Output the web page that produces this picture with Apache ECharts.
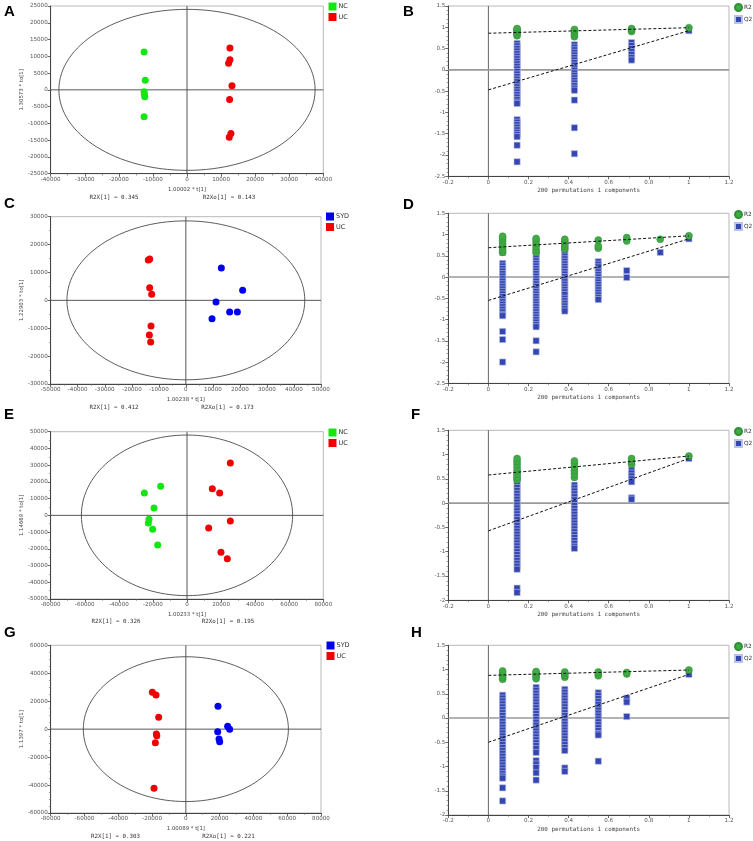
<!DOCTYPE html>
<html><head><meta charset="utf-8">
<script src="https://cdn.jsdelivr.net/npm/echarts@6/dist/echarts.min.js"></script>
<style>html,body{margin:0;padding:0;background:#fff}#c{width:753px;height:841px}</style>
</head><body><div id="c"></div>
<script>
// ---------- Score plot data (OPLS-DA) ----------
const A_NC = [[-12600,11290],[-12250,2850],[-12600,-550],[-12500,-1330],[-12400,-2040],[-12600,-8000]];
const A_UC = [[12600,12500],[12600,8950],[12200,7900],[13200,1200],[12500,-2900],[12900,-13000],[12400,-14100]];
const C_SYD = [[13130,11590],[21020,3590],[11160,-600],[16210,-4180],[19050,-4180],[9680,-6570]];
const C_UC = [[-13870,14460],[-13380,14820],[-13380,4540],[-12640,2150],[-12890,-9200],[-13500,-12430],[-13010,-14940]];
const E_NC = [[-15450,17330],[-25040,13350],[-19360,4380],[-22300,-2390],[-22690,-4580],[-20150,-8370],[-17210,-17730]];
const E_UC = [[25430,31270],[14870,15940],[19170,13350],[25430,-3390],[12710,-7570],[19950,-22110],[23670,-25900]];
const G_SYD = [[19030,16340],[24750,2030],[25940,-120],[18840,-1790],[19630,-7040],[20020,-8950]];
const G_UC = [[-19820,26360],[-17650,24450],[-16080,8470],[-17460,-3460],[-17200,-4650],[-18050,-9660],[-18840,-42350]];
// Hotelling ellipse semi-axes [x, y]
const ELLIPSES = [[37600,24000],[44000,28500],[62000,48000],[60700,51800]];
const SCORE_XNAMES = ['1.00002 * t[1]','1.00238 * t[1]','1.00233 * t[1]','1.00089 * t[1]'];
const SCORE_YNAMES = ['1.30573 * to[1]','1.22903 * to[1]','1.14669 * to[1]','1.1397 * to[1]'];
const R2X = ['0.345','0.412','0.326','0.303'];
const R2XO = ['0.143','0.173','0.195','0.221'];
const SCORE_X = [[-40000,40000,10000],[-50000,50000,10000],[-80000,80000,20000],[-80000,80000,20000]];
const SCORE_Y = [[-25000,25000,5000],[-30000,30000,10000],[-50000,50000,10000],[-60000,60000,20000]];

// ---------- Permutation test data ----------
const B_POS = [0.143,0.429,0.714,1];
const B_R2 = [[0.80,0.84,0.88,0.92,0.95,0.97],[0.78,0.83,0.88,0.92,0.95],[0.90,0.94,0.97],[0.99]];
const B_Q2 = [
 [0.62,0.56,0.50,0.44,0.38,0.32,0.26,0.20,0.14,0.08,0.02,-0.04,-0.10,-0.16,-0.22,-0.28,-0.34,-0.40,-0.46,-0.52,-0.58,-0.64,-0.70,-0.76,-0.79,-1.17,-1.23,-1.29,-1.35,-1.41,-1.47,-1.52,-1.57,-1.77,-2.16],
 [0.59,0.53,0.47,0.41,0.35,0.29,0.23,0.17,0.11,0.05,-0.01,-0.07,-0.13,-0.19,-0.25,-0.31,-0.37,-0.43,-0.48,-0.71,-1.36,-1.97],
 [0.64,0.57,0.50,0.43,0.36,0.29,0.23],
 [0.92]];
const B_LINES = {r2:[0.86,0.99], q2:[-0.47,0.92]};

const D_POS = [0.071,0.238,0.381,0.548,0.69,0.857,1];
const D_R2 = [[0.58,0.64,0.71,0.78,0.85,0.91,0.96],[0.58,0.65,0.72,0.79,0.86,0.91],[0.66,0.72,0.78,0.84,0.89],[0.68,0.73,0.87],[0.85,0.93],[0.89],[0.97]];
const D_Q2 = [
 [0.58,0.32,0.26,0.20,0.14,0.08,0.02,-0.04,-0.10,-0.16,-0.22,-0.28,-0.34,-0.40,-0.46,-0.52,-0.58,-0.64,-0.70,-0.76,-0.82,-0.88,-0.91,-1.28,-1.47,-2.0],
 [0.56,0.50,0.44,0.38,0.32,0.26,0.20,0.14,0.08,0.02,-0.04,-0.10,-0.16,-0.22,-0.28,-0.34,-0.40,-0.46,-0.52,-0.58,-0.64,-0.70,-0.76,-0.82,-0.88,-0.94,-1.00,-1.06,-1.12,-1.17,-1.50,-1.76],
 [0.79,0.73,0.67,0.61,0.55,0.49,0.43,0.37,0.31,0.25,0.19,0.13,0.07,0.01,-0.05,-0.11,-0.17,-0.23,-0.29,-0.35,-0.41,-0.50,-0.56,-0.62,-0.68,-0.74,-0.80],
 [0.36,0.30,0.24,0.18,0.12,0.06,0.00,-0.06,-0.12,-0.18,-0.24,-0.30,-0.36,-0.42,-0.48,-0.53],
 [0.15,-0.01],[0.58],[0.90]];
const D_LINES = {r2:[0.69,0.97], q2:[-0.55,0.90]};

const F_POS = [0.143,0.429,0.714,1];
const F_R2 = [[0.48,0.53,0.59,0.66,0.73,0.80,0.86,0.92],[0.53,0.60,0.67,0.74,0.81,0.87],[0.80,0.86,0.92],[0.97]];
const F_Q2 = [
 [0.68,0.62,0.56,0.50,0.44,0.38,0.32,0.26,0.20,0.14,0.08,0.02,-0.04,-0.10,-0.16,-0.22,-0.28,-0.34,-0.40,-0.46,-0.52,-0.58,-0.64,-0.70,-0.76,-0.82,-0.88,-0.94,-1.00,-1.06,-1.12,-1.18,-1.24,-1.30,-1.36,-1.75,-1.84],
 [0.70,0.37,0.31,0.25,0.19,0.13,0.07,0.01,-0.05,-0.11,-0.17,-0.23,-0.29,-0.35,-0.41,-0.47,-0.53,-0.59,-0.65,-0.71,-0.77,-0.83,-0.89,-0.93],
 [0.68,0.62,0.56,0.50,0.44,0.11,0.08],
 [0.92]];
const F_LINES = {r2:[0.58,0.97], q2:[-0.57,0.92]};

const H_POS = [0.071,0.238,0.381,0.548,0.69,1];
const H_R2 = [[0.80,0.84,0.88,0.93,0.97],[0.81,0.85,0.89,0.93,0.96],[0.84,0.88,0.92,0.95],[0.87,0.91,0.95],[0.91,0.94],[0.99]];
const H_Q2 = [
 [0.47,0.41,0.35,0.29,0.23,0.17,0.11,0.05,-0.01,-0.07,-0.13,-0.19,-0.25,-0.31,-0.37,-0.43,-0.49,-0.55,-0.61,-0.67,-0.73,-0.79,-0.85,-0.91,-0.97,-1.03,-1.09,-1.15,-1.20,-1.24,-1.44,-1.71],
 [0.63,0.57,0.51,0.45,0.39,0.33,0.27,0.21,0.15,0.09,0.03,-0.03,-0.09,-0.15,-0.21,-0.27,-0.33,-0.39,-0.45,-0.51,-0.57,-0.63,-0.71,-0.88,-0.95,-1.02,-1.13,-1.28],
 [0.59,0.53,0.47,0.41,0.35,0.29,0.23,0.17,0.11,0.05,-0.01,-0.07,-0.13,-0.19,-0.25,-0.31,-0.37,-0.43,-0.49,-0.55,-0.61,-0.67,-1.03,-1.10],
 [0.52,0.46,0.40,0.34,0.28,0.22,0.16,0.10,0.04,-0.02,-0.08,-0.14,-0.20,-0.26,-0.32,-0.35,-0.89],
 [0.41,0.33,0.03],[0.90]];
const H_LINES = {r2:[0.88,0.99], q2:[-0.50,0.90]};
const PERM_X = [-0.2,1.2,0.2];
const PERM_Y = [[-2.5,1.5,0.5],[-2.5,1.5,0.5],[-2,1.5,0.5],[-2,1.5,0.5]];
const PERM_XNAME = '200 permutations 1 components';
const LETTERS = ['A','B','C','D','E','F','G','H'];

// ---------- layout ----------
const SCORE_GRIDS = [
  {left:50.7, top:6, width:272.6, height:167.7},
  {left:50.7, top:216.7, width:270.3, height:167.3},
  {left:50.7, top:431.7, width:272.6, height:167.3},
  {left:50.7, top:645.3, width:270.3, height:167.7}];
const PERM_GRIDS = [
  {left:448.3, top:6, width:280.7, height:170.3},
  {left:448.3, top:213.3, width:280.7, height:170},
  {left:448.3, top:430.3, width:280.7, height:170},
  {left:448.3, top:645.3, width:280.7, height:169.7}];
const SCORE_LEG = [{left:328.5,top:2.5},{left:326,top:212.5},{left:328.5,top:428.5},{left:326.5,top:641.5}];
const PERM_LEG = [{left:734,top:3},{left:734,top:210},{left:734,top:427},{left:734,top:642}];
const LETTER_POS = [[4,4],[403,4],[4,196],[403,197],[4,407],[411,407],[4,625],[411,625]];
const R2X_POS = [[114,197,229],[114,407.5,227.5],[116,621.5,228],[115.5,836,228.5]];

const GREEN='#14e614', RED='#f00000', BLUE='#0000f0';
const PG='#42aa45', PB='#3546b0';
const FONT='DejaVu Sans', MONO='DejaVu Sans Mono';
const lblFmt = v => String(Math.round(v*1000)/1000);

const grid=[], xAxis=[], yAxis=[], series=[], legend=[], graphic=[];

function axisBase(r, extra){
  return Object.assign({type:'value', min:r[0], max:r[1], interval:r[2],
    axisLine:{show:true,onZero:false,lineStyle:{color:'#444',width:1}},
    axisTick:{show:true,length:3,lineStyle:{color:'#444',width:0.8}},
    minorTick:{show:true,splitNumber:2,length:1.8,lineStyle:{color:'#666',width:0.6}},
    splitLine:{show:false},
    axisLabel:{fontSize:5.6,color:'#555',fontFamily:FONT,margin:3,formatter:lblFmt,showMinLabel:true,showMaxLabel:true}
  }, extra||{});
}

const scoreSets = [
  [{name:'NC',color:GREEN,data:A_NC},{name:'UC',color:RED,data:A_UC}],
  [{name:'SYD',color:BLUE,data:C_SYD},{name:'UC',color:RED,data:C_UC}],
  [{name:'NC',color:GREEN,data:E_NC},{name:'UC',color:RED,data:E_UC}],
  [{name:'SYD',color:BLUE,data:G_SYD},{name:'UC',color:RED,data:G_UC}]];

scoreSets.forEach((groups,k)=>{
  const gi = grid.length;
  grid.push(Object.assign({show:true,borderColor:'#b8b8b8',borderWidth:1,containLabel:false},SCORE_GRIDS[k]));
  xAxis.push(axisBase(SCORE_X[k],{gridIndex:gi,name:SCORE_XNAMES[k],nameLocation:'middle',nameGap:13,
    nameTextStyle:{fontSize:5.4,color:'#444',fontFamily:FONT}}));
  yAxis.push(axisBase(SCORE_Y[k],{gridIndex:gi,name:SCORE_YNAMES[k],nameLocation:'middle',nameGap:25,
    nameTextStyle:{fontSize:5.4,color:'#444',fontFamily:FONT},
    minorTick:{show:true,splitNumber:k===3?4:(k===0?1:2),length:1.8,lineStyle:{color:'#666',width:0.6}}}));
  const xr=SCORE_X[k], yr=SCORE_Y[k];
  series.push({type:'line',xAxisIndex:gi,yAxisIndex:gi,data:[[0,yr[0]],[0,yr[1]]],symbol:'none',silent:true,z:1,
    lineStyle:{color:'#444',width:0.9}});
  series.push({type:'line',xAxisIndex:gi,yAxisIndex:gi,data:[[xr[0],0],[xr[1],0]],symbol:'none',silent:true,z:1,
    lineStyle:{color:'#444',width:0.9}});
  const e=ELLIPSES[k];
  series.push({type:'custom',xAxisIndex:gi,yAxisIndex:gi,data:[[0,0,e[0],e[1]]],silent:true,z:1,clip:false,
    renderItem:(p,api)=>{const c=api.coord([api.value(0),api.value(1)]);const s=api.size([api.value(2),api.value(3)]);
      return {type:'ellipse',shape:{cx:c[0],cy:c[1],rx:s[0],ry:s[1]},style:{fill:'none',stroke:'#333',lineWidth:0.8}};}});
  groups.forEach(g=>{
    series.push({type:'scatter',name:g.name,xAxisIndex:gi,yAxisIndex:gi,data:g.data,symbol:'circle',symbolSize:7,z:3,
      itemStyle:{color:g.color,opacity:1}});
  });
  legend.push(Object.assign({orient:'vertical',itemWidth:8,itemHeight:8,itemGap:2.5,icon:'rect',padding:0,
    data:groups.map(g=>g.name),textStyle:{fontSize:6.5,color:'#333',fontFamily:FONT,padding:[0,0,0,-3]},selectedMode:false},SCORE_LEG[k]));
  graphic.push({type:'text',x:R2X_POS[k][0],y:R2X_POS[k][1],style:{text:'R2X[1] = '+R2X[k],fontSize:5.8,fontFamily:MONO,fill:'#333',align:'center',verticalAlign:'middle'}});
  graphic.push({type:'text',x:R2X_POS[k][2],y:R2X_POS[k][1],style:{text:'R2Xo[1] = '+R2XO[k],fontSize:5.8,fontFamily:MONO,fill:'#333',align:'center',verticalAlign:'middle'}});
});

const permSets = [
  {pos:B_POS,r2:B_R2,q2:B_Q2,lines:B_LINES},
  {pos:D_POS,r2:D_R2,q2:D_Q2,lines:D_LINES},
  {pos:F_POS,r2:F_R2,q2:F_Q2,lines:F_LINES},
  {pos:H_POS,r2:H_R2,q2:H_Q2,lines:H_LINES}];

permSets.forEach((ps,k)=>{
  const gi = grid.length;
  grid.push(Object.assign({show:true,borderColor:'#b8b8b8',borderWidth:1,containLabel:false},PERM_GRIDS[k]));
  xAxis.push(axisBase(PERM_X,{gridIndex:gi,name:PERM_XNAME,nameLocation:'middle',nameGap:11,
    nameTextStyle:{fontSize:5.9,color:'#444',fontFamily:MONO}}));
  yAxis.push(axisBase(PERM_Y[k],{gridIndex:gi,
    minorTick:{show:true,splitNumber:5,length:1.8,lineStyle:{color:'#666',width:0.6}}}));
  const yr=PERM_Y[k];
  series.push({type:'line',xAxisIndex:gi,yAxisIndex:gi,data:[[0,yr[0]],[0,yr[1]]],symbol:'none',silent:true,z:1,
    lineStyle:{color:'#555',width:0.9}});
  series.push({type:'line',xAxisIndex:gi,yAxisIndex:gi,data:[[PERM_X[0],0],[PERM_X[1],0]],symbol:'none',silent:true,z:1,
    lineStyle:{color:'#9a9a9a',width:1.6}});
  const r2=[], q2=[];
  ps.pos.forEach((x,i)=>{ ps.q2[i].forEach(v=>q2.push([x,v])); ps.r2[i].forEach(v=>r2.push([x,v])); });
  series.push({type:'scatter',name:'Q2',xAxisIndex:gi,yAxisIndex:gi,data:q2,symbol:'rect',symbolSize:6.2,z:3,
    itemStyle:{color:PB,borderColor:'#b9c2ea',borderWidth:0.6,opacity:1}});
  series.push({type:'scatter',name:'R2',xAxisIndex:gi,yAxisIndex:gi,data:r2,symbol:'circle',symbolSize:7,z:4,
    itemStyle:{color:PG,borderColor:'#2f8f36',borderWidth:0.5,opacity:1}});
  series.push({type:'line',xAxisIndex:gi,yAxisIndex:gi,data:[[0,ps.lines.r2[0]],[1,ps.lines.r2[1]]],symbol:'none',silent:true,z:5,
    lineStyle:{color:'#111',width:1,type:[3,2]}});
  series.push({type:'line',xAxisIndex:gi,yAxisIndex:gi,data:[[0,ps.lines.q2[0]],[1,ps.lines.q2[1]]],symbol:'none',silent:true,z:5,
    lineStyle:{color:'#111',width:1,type:[3,2]}});
  legend.push(Object.assign({orient:'vertical',itemWidth:7,itemHeight:7,itemGap:3,padding:0,
    data:[{name:'R2',icon:'circle'},{name:'Q2',icon:'rect'}],textStyle:{fontSize:5.8,color:'#333',fontFamily:FONT,padding:[0,0,0,-3]},selectedMode:false},PERM_LEG[k]));
});

LETTERS.forEach((L,i)=>{
  graphic.push({type:'text',x:LETTER_POS[i][0],y:LETTER_POS[i][1],style:{text:L,fontSize:15,fontWeight:'bold',fontFamily:'Liberation Sans',fill:'#000',align:'left',verticalAlign:'top'}});
});

const chart = echarts.init(document.getElementById('c'), null, {renderer:'canvas'});
chart.setOption({animation:false, backgroundColor:'#fff', grid, xAxis, yAxis, series, legend, graphic, tooltip:{show:false}});
</script></body></html>
